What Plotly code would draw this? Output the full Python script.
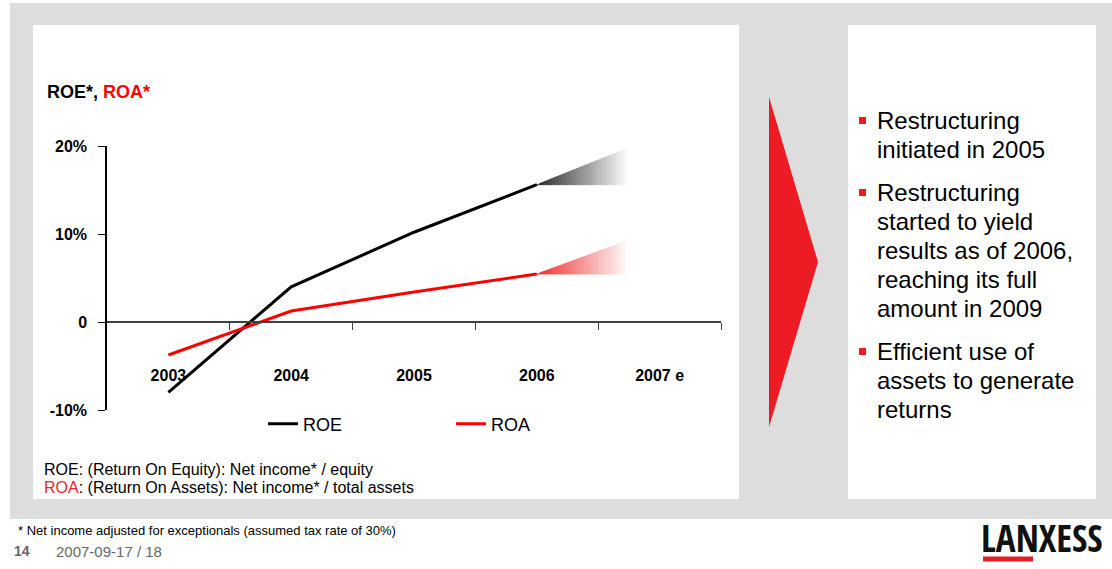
import plotly.graph_objects as go

W, H = 1112, 569
FONT = "Liberation Sans, Arial, Helvetica, sans-serif"
LOGO_FONT = "Open Sans Condensed, Roboto Condensed, Liberation Sans, sans-serif"

# ---- data -------------------------------------------------------------
years = ["2003", "2004", "2005", "2006", "2007 e"]
roe = [-8.0, 4.0, 10.2, 15.6]          # ROE in %, 2003-2006
roa = [-3.75, 1.25, 3.4, 5.45]         # ROA in %, 2003-2006
fan_reach = 0.75                       # reach of the 2007 fan, in categories past 2006
roe_fan_top = 19.8                     # upper edge of the ROE fan at its far end, %
roa_fan_top = 9.3                      # upper edge of the ROA fan at its far end, %

y_ticks = [-10, 0, 10, 20]
y_tick_labels = ["-10%", "0", "10%", "20%"]

bullets = [
    ["Restructuring", "initiated in 2005"],
    ["Restructuring", "started to yield", "results as of 2006,",
     "reaching its full", "amount in 2009"],
    ["Efficient use of", "assets to generate", "returns"],
]

# ---- colours ----------------------------------------------------------
GREY_BG = "#DDDDDD"
RED = "#ED1C24"
ROE_COL = "#000000"
ROA_COL = "#FF0000"


def px(x):
    return x / W


def py(y):
    return 1 - y / H


fig = go.Figure()

x_pos = list(range(len(roe)))


def mix(rgb, t):
    r, g, b = (int(round(c + (255 - c) * t)) for c in rgb)
    return f"rgb({r},{g},{b})"


def fan(x0, y0, x1, y1_top, rgb, n=60):
    """Wedge that fades from rgb to white, flat at y0, rising to y1_top."""
    for i in range(n):
        xa = x0 + (x1 - x0) * i / n
        xb = x0 + (x1 - x0) * (i + 1) / n
        ta = y0 + (y1_top - y0) * i / n
        tb = y0 + (y1_top - y0) * (i + 1) / n
        col = mix(rgb, (i + 0.5) / n)
        fig.add_trace(go.Scatter(
            x=[xa, xb, xb, xa, xa], y=[y0, y0, tb, ta, y0],
            mode="lines", fill="toself", fillcolor=col,
            line=dict(color=col, width=0.8),
            hoverinfo="skip", showlegend=False))


last = len(roe) - 1
fan(x_pos[last], roe[last], x_pos[last] + fan_reach, roe_fan_top, (40, 40, 40))
fan(x_pos[last], roa[last], x_pos[last] + fan_reach, roa_fan_top, (238, 45, 45))

fig.add_trace(go.Scatter(x=x_pos, y=roe, mode="lines", name="ROE",
                         line=dict(color=ROE_COL, width=3)))
fig.add_trace(go.Scatter(x=x_pos, y=roa, mode="lines", name="ROA",
                         line=dict(color=ROA_COL, width=3)))
# carrier for the category label axis
fig.add_trace(go.Scatter(x=list(range(len(years))), y=[None] * len(years),
                         xaxis="x2", mode="lines", hoverinfo="skip",
                         showlegend=False))

# ---- axes -------------------------------------------------------------
y_range = [-10, 20]
x_dom = [px(107), px(721)]
y_dom = [py(410), py(146)]
zero_pos = y_dom[0] + (0 - y_range[0]) / (y_range[1] - y_range[0]) * (y_dom[1] - y_dom[0])
x_range = [-0.5, len(years) - 0.5]

fig.update_layout(
    width=W, height=H,
    margin=dict(l=0, r=0, t=0, b=0, pad=0, autoexpand=False),
    paper_bgcolor="white", plot_bgcolor="rgba(0,0,0,0)",
    font=dict(family=FONT, color="#000000"),
    xaxis=dict(domain=x_dom, range=x_range, anchor="free", position=zero_pos,
               showline=True, linecolor="#404040", linewidth=1.5,
               ticks="outside", ticklen=7, tickwidth=1.2, tickcolor="#404040",
               tickvals=[i + 0.5 for i in range(len(years))],
               showticklabels=False, showgrid=False, zeroline=False),
    xaxis2=dict(domain=x_dom, range=x_range, overlaying="x", anchor="free",
                position=py(364), showline=False, ticks="",
                tickvals=list(range(len(years))), ticktext=years,
                tickfont=dict(size=16, family=FONT, weight="bold"),
                showgrid=False, zeroline=False),
    yaxis=dict(domain=y_dom, range=y_range, showline=True, linecolor="#000000",
               linewidth=1.5, ticks="outside", ticklen=7, tickwidth=1.2,
               tickcolor="#000000", tickvals=y_ticks, ticktext=y_tick_labels,
               tickfont=dict(size=16, family=FONT, weight="bold"),
               ticklabelstandoff=8, showgrid=False, zeroline=False),
    legend=dict(orientation="h", x=px(263), y=py(424), xanchor="left",
                yanchor="middle", font=dict(size=18, family=FONT),
                bgcolor="rgba(0,0,0,0)", entrywidth=143, entrywidthmode="pixels",
                tracegroupgap=0),
    showlegend=True,
)

# ---- slide furniture --------------------------------------------------
shapes = [
    dict(type="rect", x0=px(10), x1=px(1112), y0=py(3), y1=py(519),
         fillcolor=GREY_BG, line=dict(width=0), layer="below"),
    dict(type="rect", x0=px(33), x1=px(739), y0=py(25), y1=py(499),
         fillcolor="white", line=dict(width=0), layer="below"),
    dict(type="rect", x0=px(848), x1=px(1096), y0=py(25), y1=py(499),
         fillcolor="white", line=dict(width=0), layer="below"),
    dict(type="path",
         path=f"M {px(769)},{py(97)} L {px(818)},{py(262)} L {px(769)},{py(427)} Z",
         fillcolor=RED, line=dict(width=0), layer="below"),
    # logo underline
    dict(type="rect", x0=px(983), x1=px(1033), y0=py(556.5), y1=py(561.5),
         fillcolor="#E32028", line=dict(width=0), layer="above"),
]
for s in shapes:
    s.update(xref="paper", yref="paper")
fig.update_layout(shapes=shapes)


def note(text, x, y, size, color="#000000", xanchor="left", weight="normal",
         family=FONT):
    fig.add_annotation(text=text, x=px(x), y=py(y), xref="paper", yref="paper",
                       xanchor=xanchor, yanchor="middle", showarrow=False,
                       font=dict(size=size, color=color, family=family,
                                 weight=weight))


note("ROE*, <span style='color:#FF0000'>ROA*</span>", 45, 92, 18, weight="bold")

note("ROE: (Return On Equity): Net income* / equity", 42, 469, 16)
note("<span style='color:#E8262C'>ROA</span>: (Return On Assets): Net income* / total assets",
     42, 487, 16)

note("* Net income adjusted for exceptionals (assumed tax rate of 30%)", 16, 530, 13)
note("14", 12, 551, 14, color="#666666", weight="bold")
note("2007-09-17 / 18", 54, 551, 15, color="#666666")

# bullet list
first_line_y = [120.5, 192.5, 351.5]
for lines, y0 in zip(bullets, first_line_y):
    fig.add_shape(type="rect", xref="paper", yref="paper",
                  x0=px(859), x1=px(866), y0=py(y0 - 3.5), y1=py(y0 + 3.5),
                  fillcolor=RED, line=dict(width=0))
    for k, line in enumerate(lines):
        note(line, 875, y0 + 29 * k, 24)

# logo
note("LANXESS", 979, 537, 37, weight="bold", family=LOGO_FONT, color="#111111")

fig.write_html("out.html")
